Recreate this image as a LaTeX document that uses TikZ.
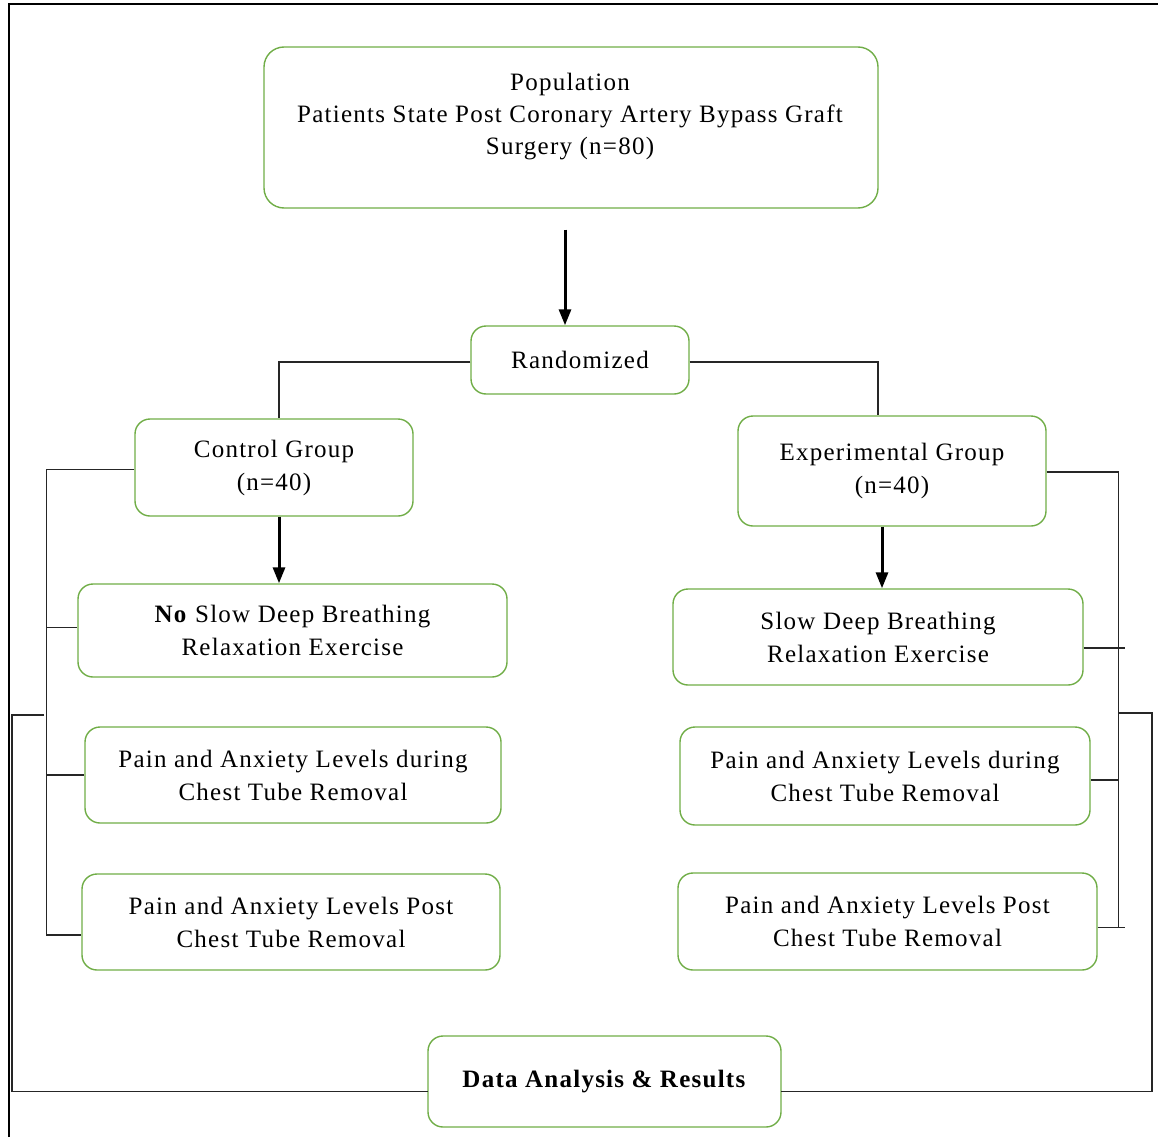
\documentclass[tikz,border=0pt]{standalone}
\usepackage{fontspec}
\setmainfont[LetterSpace=5]{Liberation Serif}
\usetikzlibrary{arrows.meta,calc}
\definecolor{boxgreen}{RGB}{112,173,71}
\tikzset{
  box/.style={draw=boxgreen, line width=1.4pt, rounded corners=15pt, align=center, inner sep=0pt,
    font=\fontsize{25}{33}\selectfont},
  conn/.style={draw=black!85, line width=1.4pt},
  arr/.style={draw=black, line width=3pt, -{Triangle[length=16pt,width=12pt]}},
}
\begin{document}
\begin{tikzpicture}[x=1pt,y=-1pt]
\useasboundingbox (0,0) rectangle (1158,1137);
% frame (top and left)
\draw[line width=2pt] (9,1137) -- (9,4) -- (1158,4);

% nodes
\node[box, rounded corners=20pt, minimum width=614pt, minimum height=161pt] (pop) at (571,127.5) {};
\node[align=center, inner sep=0pt, font=\fontsize{25}{32}\selectfont] (poptxt) at (570,117)
  {Population\\Patients State Post Coronary Artery Bypass Graft\\Surgery (n=80)};
\node[box, minimum width=218pt, minimum height=68pt] (rand) at (580,360) {Randomized};
\node[box, minimum width=278pt, minimum height=97pt] (ctrl) at (274,467.5) {Control Group\\(n=40)};
\node[box, minimum width=308pt, minimum height=110pt] (exp) at (892,471) {Experimental Group\\(n=40)};
\node[box, minimum width=429pt, minimum height=93pt] (noslow) at (292.5,630.5) {\textbf{No} Slow Deep Breathing\\Relaxation Exercise};
\node[box, minimum width=416pt, minimum height=96pt] (lduring) at (293,775) {Pain and Anxiety Levels during\\Chest Tube Removal};
\node[box, minimum width=418pt, minimum height=96pt] (lpost) at (291,922) {Pain and Anxiety Levels Post\\Chest Tube Removal};
\node[box, minimum width=410pt, minimum height=96pt] (slow) at (878,637) {Slow Deep Breathing\\Relaxation Exercise};
\node[box, minimum width=410pt, minimum height=98pt] (rduring) at (885,776) {Pain and Anxiety Levels during\\Chest Tube Removal};
\node[box, minimum width=419pt, minimum height=97pt] (rpost) at (887.5,921.5) {Pain and Anxiety Levels Post\\Chest Tube Removal};
\node[box, minimum width=353pt, minimum height=91pt] (data) at (604.5,1081.5) {\textbf{Data Analysis \& Results}};

% arrows
\draw[arr] ($(pop.south)+(-6,21)$) coordinate (a1) -- (a1 |- rand.north);
\draw[arr] ($(ctrl.south)+(5,0)$) coordinate (a2) -- (a2 |- noslow.north);
\draw[arr] ($(exp.south)+(-10,0)$) coordinate (a3) -- (a3 |- slow.north);

% randomized split
\draw[conn] (rand.west) ++(0,2) -| ($(ctrl.north)+(5,0)$);
\draw[conn] (rand.east) ++(0,2) -| ($(exp.north)+(-14,0)$);

% left bracket
\draw[conn] ($(ctrl.west)+(0,2)$) -- ++(-88,0) coordinate (lbtop) -- ($(lbtop |- lpost.west)+(0,13)$) -- ($(lpost.west)+(0,13)$);
\draw[conn] ($(lbtop |- noslow.west)+(0,-3)$) -- ($(noslow.west)+(0,-3)$);
\draw[conn] (lbtop |- lduring.west) -- (lduring.west);
\coordinate (lo) at (44,715);
\draw[conn] (lo) -- (12,715) |- ($(data.west)+(0,10)$) -- ++(1,0);

% right bracket
\draw[conn] ($(exp.east)+(0,1)$) -- ++(72,0) coordinate (rbtop) -- ($(rbtop |- rpost.east)+(0,6)$);
\draw[conn] ($(slow.east)+(0,11)$) -- ($(rbtop |- slow.east)+(6,11)$);
\draw[conn] ($(rduring.east)+(0,4)$) -- ($(rbtop |- rduring.east)+(0,4)$);
\draw[conn] ($(rpost.east)+(0,6)$) -- ($(rbtop |- rpost.east)+(6,6)$);
\coordinate (ro) at (1118,713);
\draw[conn] (ro) -- (1152,713) |- ($(data.east)+(0,10)$) -- ++(-1,0);
\end{tikzpicture}
\end{document}
